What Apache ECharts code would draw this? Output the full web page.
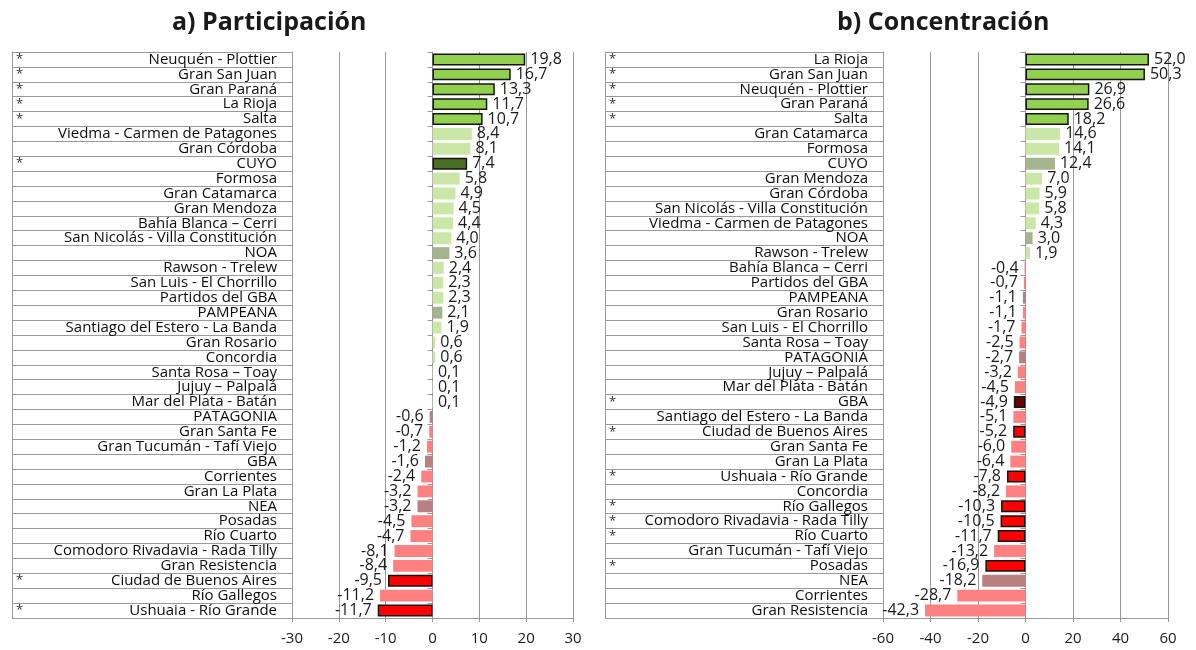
<!DOCTYPE html>
<html><head><meta charset="utf-8">
<script src="https://cdn.jsdelivr.net/npm/echarts@6/dist/echarts.min.js"></script>
<style>html,body{margin:0;padding:0;background:#fff}#c{width:1196px;height:650px}</style>
</head><body><div id="c"></div>
<script>
// ---------- DATA ----------
const categoriesA = ['Neuquén - Plottier','Gran San Juan','Gran Paraná','La Rioja','Salta','Viedma - Carmen de Patagones','Gran Córdoba','CUYO','Formosa','Gran Catamarca','Gran Mendoza','Bahía Blanca – Cerri','San Nicolás - Villa Constitución','NOA','Rawson - Trelew','San Luis - El Chorrillo','Partidos del GBA','PAMPEANA','Santiago del Estero - La Banda','Gran Rosario','Concordia','Santa Rosa – Toay','Jujuy – Palpalá','Mar del Plata - Batán','PATAGONIA','Gran Santa Fe','Gran Tucumán - Tafí Viejo','GBA','Corrientes','Gran La Plata','NEA','Posadas','Río Cuarto','Comodoro Rivadavia - Rada Tilly','Gran Resistencia','Ciudad de Buenos Aires','Río Gallegos','Ushuaia - Río Grande'];
const valuesA = [19.8,16.7,13.3,11.7,10.7,8.4,8.1,7.4,5.8,4.9,4.5,4.4,4.0,3.6,2.4,2.3,2.3,2.1,1.9,0.6,0.6,0.1,0.1,0.1,-0.6,-0.7,-1.2,-1.6,-2.4,-3.2,-3.2,-4.5,-4.7,-8.1,-8.4,-9.5,-11.2,-11.7];
const starredA = ['Neuquén - Plottier','Gran San Juan','Gran Paraná','La Rioja','Salta','CUYO','Ciudad de Buenos Aires','Ushuaia - Río Grande'];

const categoriesB = ['La Rioja','Gran San Juan','Neuquén - Plottier','Gran Paraná','Salta','Gran Catamarca','Formosa','CUYO','Gran Mendoza','Gran Córdoba','San Nicolás - Villa Constitución','Viedma - Carmen de Patagones','NOA','Rawson - Trelew','Bahía Blanca – Cerri','Partidos del GBA','PAMPEANA','Gran Rosario','San Luis - El Chorrillo','Santa Rosa – Toay','PATAGONIA','Jujuy – Palpalá','Mar del Plata - Batán','GBA','Santiago del Estero - La Banda','Ciudad de Buenos Aires','Gran Santa Fe','Gran La Plata','Ushuaia - Río Grande','Concordia','Río Gallegos','Comodoro Rivadavia - Rada Tilly','Río Cuarto','Gran Tucumán - Tafí Viejo','Posadas','NEA','Corrientes','Gran Resistencia'];
const valuesB = [52.0,50.3,26.9,26.6,18.2,14.6,14.1,12.4,7.0,5.9,5.8,4.3,3.0,1.9,-0.4,-0.7,-1.1,-1.1,-1.7,-2.5,-2.7,-3.2,-4.5,-4.9,-5.1,-5.2,-6.0,-6.4,-7.8,-8.2,-10.3,-10.5,-11.7,-13.2,-16.9,-18.2,-28.7,-42.3];
const starredB = ['La Rioja','Gran San Juan','Neuquén - Plottier','Gran Paraná','Salta','GBA','Ciudad de Buenos Aires','Ushuaia - Río Grande','Río Gallegos','Comodoro Rivadavia - Rada Tilly','Río Cuarto','Posadas'];

const regions = ['CUYO','NOA','PAMPEANA','PATAGONIA','GBA','NEA'];
const ticksA = {min:-30, max:30, interval:10};
const ticksB = {min:-60, max:60, interval:20};
const titleA = 'a) Participación';
const titleB = 'b) Concentración';

// ---------- STYLE ----------
const FONT = 'Open Sans';
function colorFor(name, v, starred) {
  const reg = regions.includes(name);
  const st = starred.includes(name);
  if (v >= 0) {
    if (st) return reg ? '#4A6F22' : '#92D050';
    return reg ? '#A4B58E' : '#CBE7A8';
  } else {
    if (st) return reg ? '#6C0000' : '#FF0000';
    return reg ? '#B88080' : '#FF8080';
  }
}
function barData(cats, vals, starred) {
  return vals.map((v, i) => {
    const st = starred.includes(cats[i]);
    return {
      value: v,
      itemStyle: {
        color: colorFor(cats[i], v, starred),
        borderColor: st ? '#151515' : 'transparent',
        borderWidth: st ? 1.5 : 0
      },
      label: { position: v >= 0 ? 'right' : 'left', distance: v >= 0 ? 5 : 6 }
    };
  });
}
const fmt = v => v.toFixed(1).replace('.', ',');

const panels = [
  {cats: categoriesA, vals: valuesA, star: starredA, ticks: ticksA, tableLeft: 12, plotLeft: 292, plotRight: 573},
  {cats: categoriesB, vals: valuesB, star: starredB, ticks: ticksB, tableLeft: 605, plotLeft: 883, plotRight: 1168}
];
const TOP = 52, BOTTOM = 618;
const grids = [], xAxes = [], yAxes = [], series = [];
panels.forEach((p, k) => {
  // table grid
  grids.push({left: p.tableLeft, width: p.plotLeft - p.tableLeft, top: TOP, height: BOTTOM - TOP});
  const tg = grids.length - 1;
  xAxes.push({type: 'value', gridIndex: tg, show: false, min: 0, max: 1});
  yAxes.push({type: 'category', gridIndex: tg, data: p.cats, inverse: true, position: 'left',
    axisLine: {show: true, onZero: false, lineStyle: {color: '#999', width: 1}},
    axisTick: {show: false},
    splitLine: {show: true, interval: 0, lineStyle: {color: '#9a9a9a', width: 1}},
    axisLabel: {inside: true, interval: 0, margin: 4, fontFamily: FONT, fontSize: 13, color: '#333',
      formatter: n => p.star.includes(n) ? '*' : ''}
  });
  // plot grid
  grids.push({left: p.plotLeft, width: p.plotRight - p.plotLeft, top: TOP, height: BOTTOM - TOP});
  const pg = grids.length - 1;
  const xi = xAxes.length;
  xAxes.push({type: 'value', gridIndex: pg, min: p.ticks.min, max: p.ticks.max, interval: p.ticks.interval,
    axisLine: {show: true, onZero: false, lineStyle: {color: '#999'}},
    axisTick: {show: true, length: 4, lineStyle: {color: '#999'}},
    splitLine: {show: true, lineStyle: {color: '#999', width: 1}},
    axisLabel: {fontFamily: FONT, fontSize: 15, color: '#1a1a1a', margin: 13}
  });
  // labels axis (at left edge)
  yAxes.push({type: 'category', gridIndex: pg, data: p.cats, inverse: true, position: 'left',
    axisLine: {show: true, onZero: false, lineStyle: {color: '#999'}},
    axisTick: {show: false},
    axisLabel: {interval: 0, margin: 15, fontFamily: FONT, fontSize: 15, color: '#0d0d0d'}
  });
  // zero axis (line + ticks)
  const yi = yAxes.length;
  yAxes.push({type: 'category', gridIndex: pg, data: p.cats, inverse: true, position: 'left',
    axisLine: {show: true, onZero: true, lineStyle: {color: '#999'}},
    axisTick: {show: true, interval: 0, length: 5, lineStyle: {color: '#999'}},
    axisLabel: {show: false}
  });
  series.push({type: 'bar', xAxisIndex: xi, yAxisIndex: yi, barWidth: '80%',
    data: barData(p.cats, p.vals, p.star),
    label: {show: true, fontFamily: FONT, fontSize: 16, color: '#1a1a1a', formatter: d => fmt(d.value)},
    animation: false
  });
});

const chart = echarts.init(document.getElementById('c'), null, {renderer: 'canvas'});
chart.setOption({
  animation: false,
  title: [
    {text: titleA, left: 167, top: 5, textStyle: {fontFamily: FONT, fontWeight: 'bold', fontSize: 25, color: '#1a1a1a'}},
    {text: titleB, left: 832, top: 5, textStyle: {fontFamily: FONT, fontWeight: 'bold', fontSize: 25, color: '#1a1a1a'}}
  ],
  grid: grids, xAxis: xAxes, yAxis: yAxes, series: series
});
</script></body></html>
